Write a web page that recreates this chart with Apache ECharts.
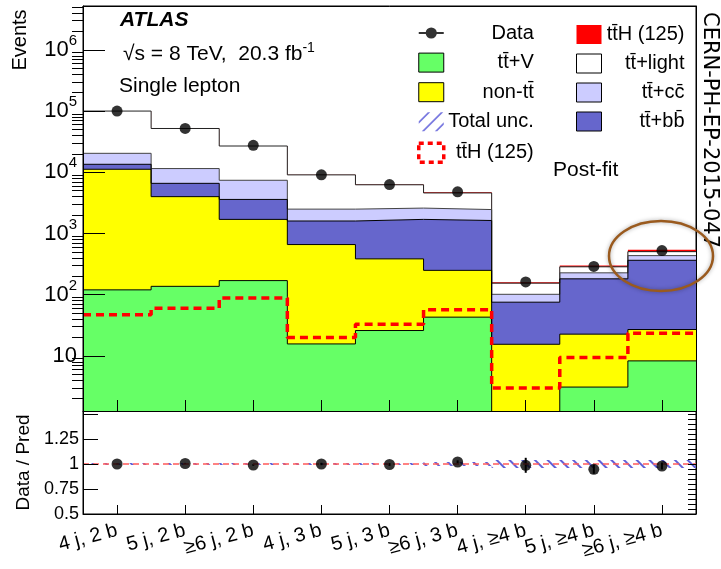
<!DOCTYPE html>
<html>
<head>
<meta charset="utf-8">
<script src="https://cdn.jsdelivr.net/npm/echarts@6/dist/echarts.min.js"></script>
<style>
html,body{margin:0;padding:0;background:#fff;}
#chart{width:721px;height:569px;}
</style>
</head>
<body>
<div id="chart"></div>
<script>
// ---------------- data ----------------
const categories = ['4 j, 2 b','5 j, 2 b','\u22656 j, 2 b','4 j, 3 b','5 j, 3 b','\u22656 j, 3 b','4 j, \u22654 b','5 j, \u22654 b','\u22656 j, \u22654 b'];
const ttV     = [120, 137, 170, 15.7, 26, 43, 1, 3.1, 8.3];
const nonTT   = [11080, 3860, 1530, 644, 359, 207, 14.5, 19.6, 18.7];
const ttbb    = [2300, 2600, 1900, 940, 1315, 1380, 60, 159, 338];
const ttcc    = [6900, 4900, 3800, 900, 900, 830, 26, 46, 70];
const ttLight = [79500, 40400, 19450, 6570, 3650, 2135, 53, 58, 70];
const ttHfit  = [70, 90, 130, 30, 50, 105, 5, 14, 35];
const ttHsm   = [47, 60, 88, 20, 33, 57, 3, 9.4, 23.5];
const dataObs = [100000, 52000, 27500, 9100, 6300, 4800, 162, 290, 525];
const ratio    = [1.0, 1.005, 0.99, 1.0, 0.995, 1.02, 0.987, 0.947, 0.98];
const ratioErr = [0.004, 0.006, 0.008, 0.012, 0.014, 0.016, 0.075, 0.045, 0.035];
const totalUnc = [0.01, 0.01, 0.01, 0.01, 0.01, 0.02, 0.04, 0.04, 0.04];
const yMajor = [10, 100, 1000, 10000, 100000, 1000000];
const ratioLabels = [0.5, 0.75, 1, 1.25];

// ---------------- names ----------------
const N_TTV = 'tt\u0304+V', N_NON = 'non-tt\u0304', N_BB = 'tt\u0304+bb\u0304', N_CC = 'tt\u0304+cc\u0304',
      N_LIGHT = 'tt\u0304+light', N_TTH = 'tt\u0304H (125)', N_TTH_SM = 'tt\u0304H (125)\u200b',
      N_DATA = 'Data', N_UNC = 'Total unc.';
const FONT = '"Liberation Sans", Arial, "DejaVu Sans", sans-serif';

// cumulative stack tops
const layers = [ttV, nonTT, ttbb, ttcc, ttLight, ttHfit];
const cum = [];
layers.forEach((arr, k) => {
  cum.push(arr.map((v, i) => v + (k > 0 ? cum[k - 1][i] : 0)));
});
function stepData(vals) {
  const out = vals.map((v, i) => [i, v]);
  out.push([vals.length, vals[vals.length - 1]]);
  return out;
}
const yMinor = [];
for (let e = 0; e <= 6; e++) for (let k = 2; k <= 9; k++) yMinor.push(k * Math.pow(10, e));
const rMinor = [];
for (let v = 50; v <= 150; v += 5) rMinor.push(v / 100);
const binCenters = categories.map((c, i) => i + 0.5);

const YMIN = 1.26, YMAX = 5.2e6;

function stackSeries(name, vals, fill, line, lw) {
  return {
    name: name, type: 'line', xAxisIndex: 0, yAxisIndex: 0, step: 'end',
    symbol: 'none', data: stepData(vals), animation: false, silent: true,
    lineStyle: { color: line, width: lw },
    areaStyle: { color: fill, opacity: 1, origin: 'start' },
    itemStyle: { color: fill }
  };
}

const series = [
  stackSeries(N_TTH, cum[5], '#ff0000', '#ff0000', 0),
  stackSeries(N_LIGHT, cum[4], '#ffffff', '#222222', 1),
  stackSeries(N_CC, cum[3], '#ccccff', '#444444', 1),
  stackSeries(N_BB, cum[2], '#6666cc', '#000000', 1),
  stackSeries(N_NON, cum[1], '#ffff00', '#000000', 1),
  stackSeries(N_TTV, cum[0], '#66ff66', '#000000', 1),
  {
    name: N_TTH_SM, type: 'line', xAxisIndex: 0, yAxisIndex: 0, step: 'end',
    symbol: 'none', data: stepData(ttHsm), animation: false, silent: true,
    lineStyle: { color: '#ff0000', width: 3.5, type: [8, 5] }, itemStyle: { color: '#ff0000' }
  },
  {
    name: N_DATA, type: 'scatter', xAxisIndex: 0, yAxisIndex: 0,
    data: dataObs.map((v, i) => [binCenters[i], v]),
    symbol: 'circle', symbolSize: 11, itemStyle: { color: '#000' }, z: 5, animation: false
  },
  // ratio panel: uncertainty band
  {
    name: 'uncBase', type: 'bar', xAxisIndex: 2, yAxisIndex: 3, stack: 'unc',
    data: totalUnc.map(u => 1 - u), barWidth: '100%', barGap: '-100%',
    itemStyle: { color: 'rgba(0,0,0,0)' }, silent: true, animation: false
  },
  {
    name: N_UNC, type: 'bar', xAxisIndex: 2, yAxisIndex: 3, stack: 'unc',
    data: totalUnc.map(u => 2 * u), barWidth: '100%',
    itemStyle: {
      color: 'rgba(0,0,0,0)',
      decal: { symbol: 'rect', color: '#6060d8', dashArrayX: [1, 0], dashArrayY: [1.3, 7], rotation: Math.PI / 4, symbolSize: 1 }
    },
    silent: true, animation: false
  },
  {
    name: 'ratio', type: 'scatter', xAxisIndex: 2, yAxisIndex: 3,
    data: ratio.map((v, i) => [i, v]), symbol: 'circle', symbolSize: 11,
    itemStyle: { color: '#000' }, z: 5, animation: false,
    markLine: {
      silent: true, symbol: 'none', animation: false, label: { show: false },
      lineStyle: { color: '#ff5a5a', type: [6, 4], width: 1.5 },
      data: [{ yAxis: 1 }]
    }
  },
  {
    name: 'ratioErr', type: 'custom', xAxisIndex: 2, yAxisIndex: 3,
    data: ratio.map((v, i) => [i, v - ratioErr[i], v + ratioErr[i]]),
    renderItem: function (params, api) {
      const lo = api.coord([api.value(0), api.value(1)]);
      const hi = api.coord([api.value(0), api.value(2)]);
      return { type: 'line', shape: { x1: lo[0], y1: lo[1], x2: hi[0], y2: hi[1] }, style: { stroke: '#000', lineWidth: 2 } };
    },
    z: 4, animation: false, silent: true
  }
];

const DATA_ICON = 'path://M0,8.8 L25,8.8 L25,10.8 L0,10.8 Z M12.5,4.2 A5.6,5.6 0 1 1 12.49,4.2 Z';
const HATCH_ICON = 'path://M0,9 L9,0 L11.5,0 L0,11.5 Z M3,19 L22,0 L24.5,0 L5.5,19 Z M16,19 L25,10 L25,12.5 L18.5,19 Z';

function legendRich(w) {
  return { rich: { r: { width: w, align: 'right', fontSize: 20, fontFamily: FONT, color: '#000', lineHeight: 19 } } };
}

const option = {
  backgroundColor: '#ffffff',
  animation: false,
  grid: [
    { left: 83, right: 25, top: 6, height: 405, show: true, borderColor: '#000', borderWidth: 1, backgroundColor: '#fff' },
    { left: 83, right: 25, top: 411, height: 103, show: true, borderColor: '#000', borderWidth: 1, backgroundColor: '#fff' }
  ],
  xAxis: [
    { gridIndex: 0, type: 'value', min: 0, max: 9, z: 10,
      axisLine: { show: true, lineStyle: { color: '#000', width: 1 } },
      axisTick: { show: true, inside: true, length: 11, customValues: binCenters, lineStyle: { color: '#000' } },
      axisLabel: { show: false }, splitLine: { show: false } },
    { gridIndex: 0, type: 'value', position: 'top', min: 0, max: 9, z: 10,
      axisLine: { show: true, lineStyle: { color: '#000', width: 1 } },
      axisTick: { show: false }, axisLabel: { show: false }, splitLine: { show: false } },
    { gridIndex: 1, type: 'category', data: categories, boundaryGap: true, z: 10,
      axisLine: { show: true, lineStyle: { color: '#000', width: 1 } },
      axisTick: { show: true, inside: true, length: 9, alignWithLabel: true, lineStyle: { color: '#000' } },
      axisLabel: { show: true, interval: 0, rotate: 15, margin: 16, fontSize: 20, fontFamily: FONT, color: '#000' },
      splitLine: { show: false } }
  ],
  yAxis: [
    { gridIndex: 0, type: 'log', min: YMIN, max: YMAX, z: 10,
      axisLine: { show: true, lineStyle: { color: '#000', width: 1 } },
      axisTick: { show: true, inside: true, length: 22, customValues: yMajor, lineStyle: { color: '#000' } },
      axisLabel: { show: true, margin: 6, customValues: yMajor,
        formatter: function (v) {
          const e = Math.round(Math.log10(v));
          return e === 1 ? '{b|10}' : '{b|10}{s|' + e + '}';
        },
        rich: {
          b: { fontSize: 22, fontFamily: FONT, color: '#000' },
          s: { fontSize: 15, fontFamily: FONT, color: '#000', padding: [0, 0, 18, 0] }
        } },
      splitLine: { show: false } },
    { gridIndex: 0, type: 'log', min: YMIN, max: YMAX, z: 10,
      axisLine: { show: false },
      axisTick: { show: true, inside: true, length: 11, customValues: yMinor, lineStyle: { color: '#000' } },
      axisLabel: { show: false }, splitLine: { show: false } },
    { gridIndex: 0, type: 'log', position: 'right', min: YMIN, max: YMAX, z: 10,
      axisLine: { show: true, lineStyle: { color: '#000', width: 1 } },
      axisTick: { show: false }, axisLabel: { show: false }, splitLine: { show: false } },
    { gridIndex: 1, type: 'value', min: 0.5, max: 1.53, z: 10,
      name: 'Data / Pred', nameLocation: 'middle', nameGap: 44, nameRotate: 90,
      nameTextStyle: { fontSize: 19, fontFamily: FONT, color: '#000' },
      axisLine: { show: true, lineStyle: { color: '#000', width: 1 } },
      axisTick: { show: true, inside: true, length: 15, customValues: [0.5, 0.75, 1, 1.25, 1.5], lineStyle: { color: '#000' } },
      axisLabel: { show: true, margin: 4, customValues: ratioLabels, fontSize: 18, fontFamily: FONT, color: '#000',
        formatter: function (v) { return String(v); } },
      splitLine: { show: false } },
    { gridIndex: 1, type: 'value', min: 0.5, max: 1.53, z: 10,
      axisLine: { show: false },
      axisTick: { show: true, inside: true, length: 8, customValues: rMinor, lineStyle: { color: '#000' } },
      axisLabel: { show: false }, splitLine: { show: false } },
    { gridIndex: 1, type: 'value', position: 'right', min: 0.5, max: 1.53, z: 10,
      axisLine: { show: true, lineStyle: { color: '#000', width: 1 } },
      axisTick: { show: false }, axisLabel: { show: false }, splitLine: { show: false } }
  ],
  legend: [
    { orient: 'vertical', left: 412, top: 18, itemWidth: 25, itemHeight: 19, itemGap: 9.6, selectedMode: false,
      formatter: function (n) { return '{r|' + n + '}'; }, textStyle: legendRich(85),
      data: [
        { name: N_DATA, icon: DATA_ICON, itemStyle: { color: '#000', borderWidth: 0 } },
        { name: N_TTV, icon: 'rect', itemStyle: { color: '#66ff66', borderColor: '#000', borderWidth: 1 } },
        { name: N_NON, icon: 'rect', itemStyle: { color: '#ffff00', borderColor: '#000', borderWidth: 1 } },
        { name: N_UNC, icon: HATCH_ICON, itemStyle: { color: '#7a7ae0', borderWidth: 0, decal: 'none' } },
        { name: N_TTH_SM, icon: 'rect', itemStyle: { color: 'rgba(0,0,0,0)', borderColor: '#ff0000', borderWidth: 3.5, borderType: [5, 4] } }
      ] },
    { orient: 'vertical', left: 571, top: 19.5, itemWidth: 25, itemHeight: 19, itemGap: 9, selectedMode: false,
      formatter: function (n) { return '{r|' + n + '}'; }, textStyle: legendRich(78),
      data: [
        { name: N_TTH, icon: 'rect', itemStyle: { color: '#ff0000', borderColor: '#ff0000', borderWidth: 0 } },
        { name: N_LIGHT, icon: 'rect', itemStyle: { color: '#ffffff', borderColor: '#000', borderWidth: 1 } },
        { name: N_CC, icon: 'rect', itemStyle: { color: '#ccccff', borderColor: '#000', borderWidth: 1 } },
        { name: N_BB, icon: 'rect', itemStyle: { color: '#6666cc', borderColor: '#000', borderWidth: 1 } }
      ] }
  ],
  graphic: [
    { type: 'text', x: 120, y: 20, z: 20, style: { text: 'ATLAS', fontSize: 21, fontWeight: 'bold', fontStyle: 'italic', fontFamily: FONT, fill: '#000', align: 'left', verticalAlign: 'middle' } },
    { type: 'text', x: 123, y: 54, z: 20, style: { text: '\u221As = 8 TeV,  20.3 fb{s|-1}', fontSize: 21, fontFamily: FONT, fill: '#000', align: 'left', verticalAlign: 'middle',
        rich: { s: { fontSize: 14, fontFamily: FONT, fill: '#000', padding: [0, 0, 12, 0] } } } },
    { type: 'text', x: 119, y: 86, z: 20, style: { text: 'Single lepton', fontSize: 21, fontFamily: FONT, fill: '#000', align: 'left', verticalAlign: 'middle' } },
    { type: 'text', x: 553, y: 170, z: 20, style: { text: 'Post-fit', fontSize: 21, fontFamily: FONT, fill: '#000', align: 'left', verticalAlign: 'middle' } },
    { type: 'text', x: 20, y: 40, z: 20, rotation: Math.PI / 2, style: { text: 'Events', fontSize: 20, fontFamily: FONT, fill: '#000', align: 'center', verticalAlign: 'middle' } },
    { type: 'text', x: 709, y: 12, z: 20, rotation: -Math.PI / 2, style: { text: 'CERN-PH-EP-2015-047', fontSize: 21, fontFamily: '"DejaVu Sans", sans-serif', fill: '#000', align: 'left', verticalAlign: 'middle' } },
    { type: 'ellipse', z: 30, shape: { cx: 661, cy: 256, rx: 52, ry: 35 },
      style: { fill: 'none', stroke: '#9a5a1e', lineWidth: 2.5, shadowBlur: 4, shadowColor: 'rgba(0,0,0,0.35)' } }
  ],
  series: series
};

const chart = echarts.init(document.getElementById('chart'), null, { renderer: 'canvas' });
chart.setOption(option);
</script>
</body>
</html>
